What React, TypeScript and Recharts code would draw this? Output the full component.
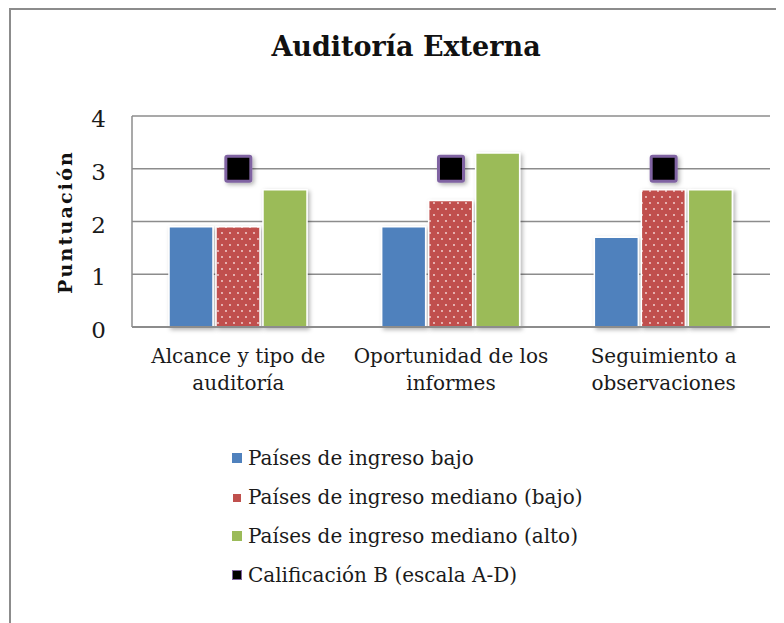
import React from 'react';
import { ComposedChart, Bar, Line, XAxis, YAxis, CartesianGrid, Legend } from 'recharts';

const categories = ['Alcance y tipo de\nauditoría', 'Oportunidad de los\ninformes', 'Seguimiento a\nobservaciones'];
const ingresoBajo = [1.9, 1.9, 1.7];
const medianoBajo = [1.9, 2.4, 2.6];
const medianoAlto = [2.6, 3.3, 2.6];
const calificacion = [3, 3, 3];
const yTicks = [0, 1, 2, 3, 4];

const seriesNames = [
  'Países de ingreso bajo',
  'Países de ingreso mediano (bajo)',
  'Países de ingreso mediano (alto)',
  'Calificación B (escala A-D)',
];
const seriesColors = ['#4f81bd', '#c0504d', '#9bbb59', '#000000'];

const data = categories.map((name, i) => ({
  name,
  bajo: ingresoBajo[i],
  medBajo: medianoBajo[i],
  medAlto: medianoAlto[i],
  calif: calificacion[i],
}));

const FONT = '"DejaVu Serif", serif';

const CategoryTick = (props: any) => {
  const { x, y, payload } = props;
  const lines = String(payload.value).split('\n');
  return (
    <text x={x} y={y} textAnchor="middle" fontFamily={FONT} fontSize={20} fill="#1a1a1a">
      {lines.map((l, i) => (
        <tspan key={i} x={x} dy={i === 0 ? 36 : 27}>{l}</tspan>
      ))}
    </text>
  );
};

const SquareDot = (props: any) => {
  const { cx, cy, index } = props;
  if (cx == null || cy == null) return null;
  return (
    <rect
      key={`sq-${index}`}
      x={cx - 12.5}
      y={cy - 12.5}
      width={25}
      height={25}
      fill="#000"
      stroke="#8064a2"
      strokeWidth={3}
      rx={1.5}
      filter="url(#shadow)"
    />
  );
};

const LegendBox = () => (
  <div style={{ fontFamily: FONT, fontSize: 20, color: '#1a1a1a' }}>
    {seriesNames.map((name, i) => (
      <div key={name} style={{ height: 39, display: 'flex', alignItems: 'center' }}>
        <span
          style={{
            display: 'inline-block',
            width: i === 1 ? 8 : 10,
            height: i === 1 ? 8 : 10,
            marginTop: i === 1 ? 3 : 0,
            marginLeft: i === 1 ? 1 : 0,
            marginRight: i === 1 ? 7 : 6,
            background: seriesColors[i],
            boxSizing: 'border-box',
            border: i === 3 ? '1px solid #8064a2' : 'none',
          }}
        />
        <span style={{ whiteSpace: 'nowrap' }}>{name}</span>
      </div>
    ))}
  </div>
);

export default function App() {
  return (
    <div style={{ position: 'relative', width: 776, height: 615, overflow: 'hidden', background: '#fff' }}>
      <div
        style={{
          position: 'absolute',
          left: 1,
          top: 0,
          width: 1000,
          height: 1000,
          borderLeft: '2px solid #8c8c8c',
          borderTop: '2px solid #8c8c8c',
        }}
      />
      <div
        style={{
          position: 'absolute',
          left: 0,
          top: 25,
          width: 796,
          textAlign: 'center',
          fontFamily: FONT,
          fontWeight: 'bold',
          fontSize: 27,
          lineHeight: 1,
          color: '#111',
        }}
      >
        Auditoría Externa
      </div>
      <div
        style={{
          position: 'absolute',
          left: 57,
          top: 214,
          transform: 'translate(-50%, -50%) rotate(-90deg)',
          fontFamily: FONT,
          fontWeight: 'bold',
          fontSize: 19,
          letterSpacing: 2.2,
          whiteSpace: 'nowrap',
          color: '#111',
        }}
      >
        Puntuación
      </div>
      <div style={{ position: 'absolute', left: 0, top: 0 }}>
        <ComposedChart
          width={776}
          height={615}
          data={data}
          margin={{ top: 108, right: 14, left: 64, bottom: 236 }}
          barSize={44}
          barGap={3}
        >
          <defs>
            <pattern id="dots" width="8" height="12" patternUnits="userSpaceOnUse">
              <rect width="8" height="12" fill="#c0504d" />
              <circle cx="2" cy="3" r="0.9" fill="#f6dcdc" />
              <circle cx="6" cy="9" r="0.9" fill="#f6dcdc" />
            </pattern>
            <filter id="shadow" x="-30%" y="-30%" width="160%" height="160%">
              <feDropShadow dx="2" dy="2" stdDeviation="2" floodColor="#000" floodOpacity="0.3" />
            </filter>
          </defs>
          <CartesianGrid vertical={false} stroke="#8c8c8c" strokeWidth={1.5} />
          <XAxis
            dataKey="name"
            height={60}
            axisLine={{ stroke: '#8c8c8c', strokeWidth: 2 }}
            tickLine={false}
            tickSize={0}
            tickMargin={0}
            interval={0}
            tick={<CategoryTick />}
          />
          <YAxis
            width={60}
            domain={[0, 4]}
            ticks={yTicks}
            axisLine={{ stroke: '#8c8c8c', strokeWidth: 1.5 }}
            tickLine={false}
            tickSize={0}
            tickMargin={26}
            tick={{ fontFamily: FONT, fontSize: 23, fill: '#1a1a1a', dy: 3 }}
          />
          <Bar dataKey="bajo" name={seriesNames[0]} fill={seriesColors[0]} stroke="#fff" strokeWidth={1.5} filter="url(#shadow)" isAnimationActive={false} />
          <Bar dataKey="medBajo" name={seriesNames[1]} fill="url(#dots)" stroke="#fff" strokeWidth={1.5} filter="url(#shadow)" isAnimationActive={false} />
          <Bar dataKey="medAlto" name={seriesNames[2]} fill={seriesColors[2]} stroke="#fff" strokeWidth={1.5} filter="url(#shadow)" isAnimationActive={false} />
          <Line dataKey="calif" name={seriesNames[3]} stroke="none" dot={SquareDot} activeDot={false} isAnimationActive={false} />
          <Legend
            layout="vertical"
            align="center"
            verticalAlign="middle"
            wrapperStyle={{ left: 224, top: 430, width: 420 }}
            content={() => <LegendBox />}
          />
        </ComposedChart>
      </div>
    </div>
  );
}
